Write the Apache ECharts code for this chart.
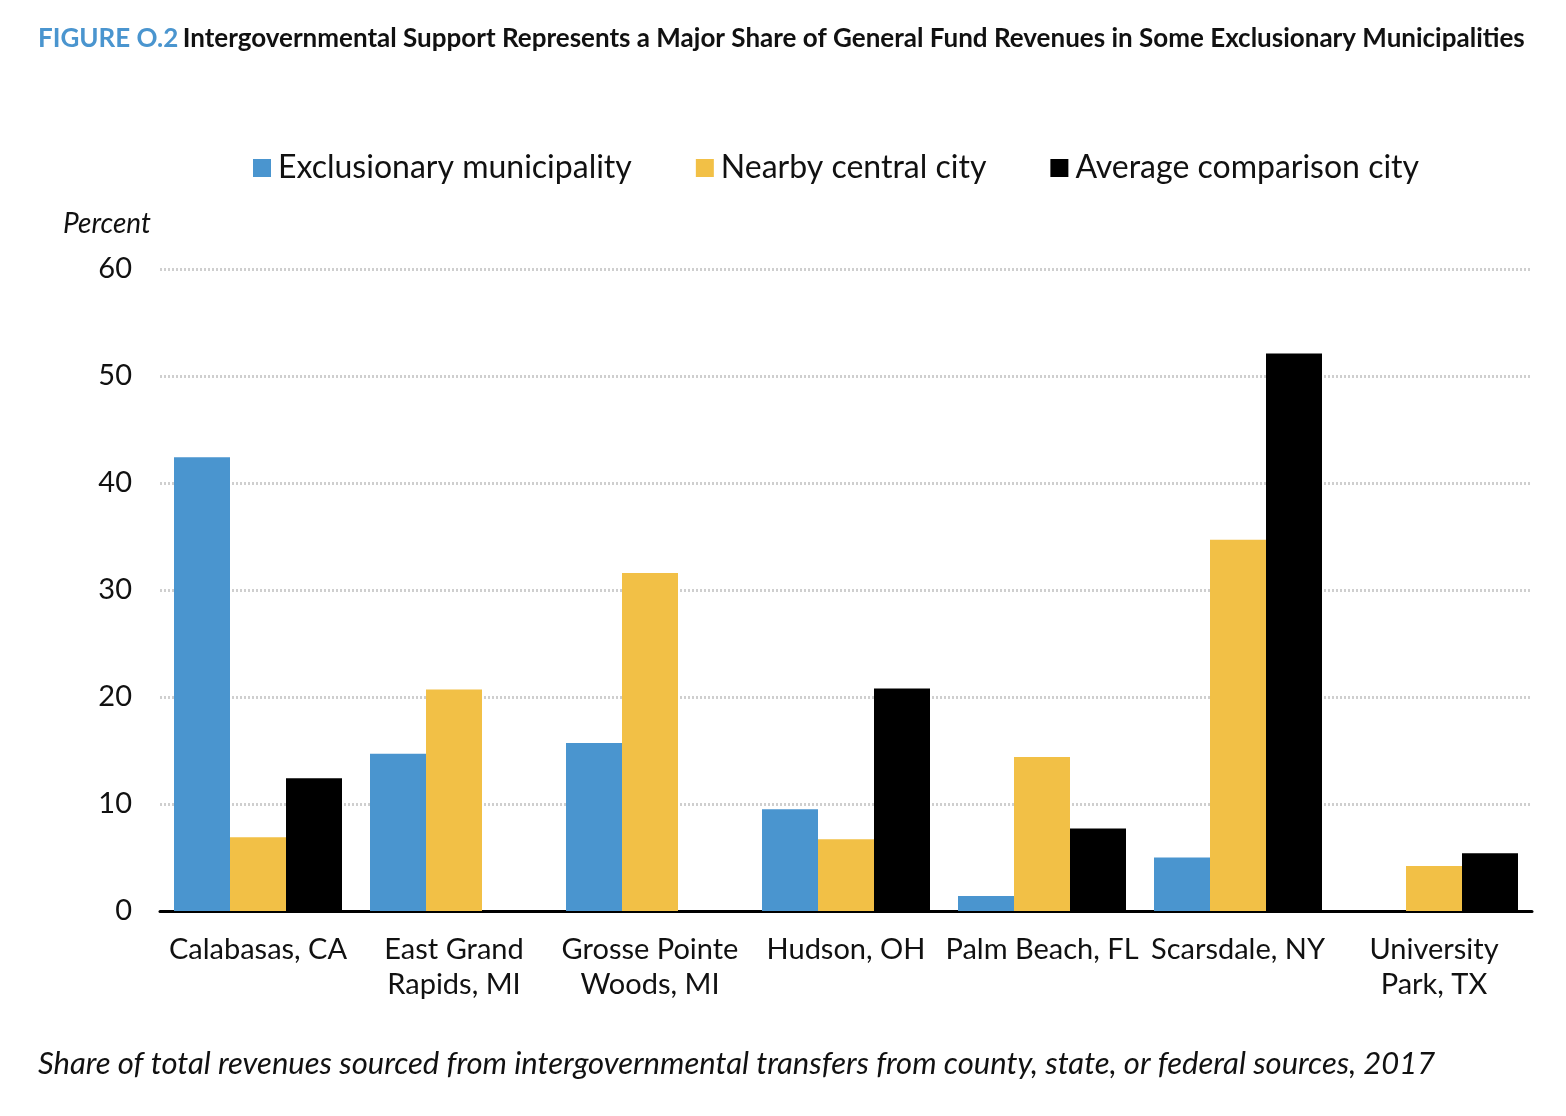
<!DOCTYPE html>
<html><head><meta charset="utf-8">
<script src="https://cdn.jsdelivr.net/npm/echarts@6/dist/echarts.min.js"></script>
<style>html,body{margin:0;padding:0;background:#fff}#c{width:1566px;height:1116px}</style>
</head><body><div id="c"></div>
<script>
const categories = ['Calabasas, CA','East Grand\nRapids, MI','Grosse Pointe\nWoods, MI','Hudson, OH','Palm Beach, FL','Scarsdale, NY','University\nPark, TX'];
const exclusionary = [42.4, 14.7, 15.7, 9.5, 1.4, 5.0, null];
const nearbyCentral = [6.9, 20.7, 31.6, 6.7, 14.4, 34.7, 4.2];
const averageComparison = [12.4, null, null, 20.8, 7.7, 52.1, 5.4];
const seriesNames = ['Exclusionary municipality','Nearby central city','Average comparison city'];
const colors = ['#4A95CF','#F2C046','#000000'];

const chart = echarts.init(document.getElementById('c'));
const F = 'Lato, "Noto Sans", sans-serif';
chart.setOption({
  animation: false,
  textStyle: {fontFamily: F},
  title: [
    {text: '{b|FIGURE O.2} {k|Intergovernmental Support Represents a Major Share of General Fund Revenues in Some Exclusionary Municipalities}',
     left: 33, top: 21,
     textStyle: {rich: {
       b: {fontFamily: F, fontSize: 26, fontWeight: 'bold', color: '#4A95CF'},
       k: {fontFamily: F, fontSize: 26, fontWeight: 'bold', color: '#111'}
     }}},
    {text: 'Percent', left: 58, top: 205, textStyle: {fontFamily: F, fontSize: 28, fontStyle: 'italic', fontWeight: 'normal', color: '#111'}},
    {text: 'Share of total revenues sourced from intergovernmental transfers from county, state, or federal sources, 2017', left: 33, top: 1043,
     textStyle: {fontFamily: F, fontSize: 31, fontStyle: 'italic', fontWeight: 'normal', color: '#111'}}
  ],
  legend: {
    left: 248, top: 147, itemWidth: 18, itemHeight: 18, itemGap: 64,
    icon: 'rect',
    textStyle: {fontFamily: F, fontSize: 32, color: '#111', padding: [0,0,0,2]},
    data: seriesNames
  },
  grid: {left: 160, right: 34, top: 269, bottom: 205, containLabel: false},
  xAxis: {
    type: 'category', data: categories,
    axisLine: {lineStyle: {color: '#000', width: 3}},
    axisTick: {show: false},
    axisLabel: {fontFamily: F, fontSize: 29, color: '#111', margin: 21, lineHeight: 35, interval: 0}
  },
  yAxis: {
    type: 'value', min: 0, max: 60, interval: 10,
    axisLine: {show: false}, axisTick: {show: false},
    axisLabel: {fontFamily: F, fontSize: 29, color: '#111', margin: 28},
    splitLine: {lineStyle: {color: '#cfcfcf', type: [2, 2], width: 3}}
  },
  series: [
    {name: seriesNames[0], type: 'bar', data: exclusionary, barWidth: 56, barGap: '0%', itemStyle: {color: colors[0]}},
    {name: seriesNames[1], type: 'bar', data: nearbyCentral, barWidth: 56, barGap: '0%', itemStyle: {color: colors[1]}},
    {name: seriesNames[2], type: 'bar', data: averageComparison, barWidth: 56, barGap: '0%', itemStyle: {color: colors[2]}}
  ]
});
</script></body></html>
